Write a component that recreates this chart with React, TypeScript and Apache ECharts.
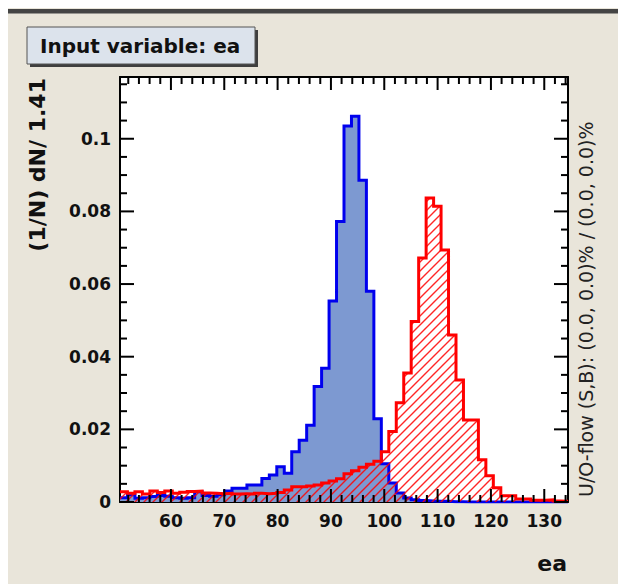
import React, { useEffect, useRef } from 'react';
import * as echarts from 'echarts';

// Binning of the "ea" variable: 60 equal bins starting at BIN_START
const BIN_START = 50.45;
const BIN_WIDTH = 1.4;

// (1/N) dN per bin, signal sample
const signalValues = [
  0.0012, 0.0020, 0.0010, 0.0012, 0.0015, 0.0018, 0.0016, 0.0012, 0.0010, 0.0012,
  0.0028, 0.0018, 0.0016, 0.0020, 0.0030, 0.0038, 0.0038, 0.0047, 0.0047, 0.0065,
  0.0074, 0.0097, 0.0079, 0.0138, 0.0170, 0.0211, 0.0318, 0.0368, 0.0553, 0.0772,
  0.1035, 0.1062, 0.0886, 0.0580, 0.0229, 0.0105, 0.0052, 0.0025, 0.0011, 0.0006,
  0.0004, 0.0003, 0.0002, 0.0002, 0.0001, 0.0001, 0.0000, 0.0000, 0.0000, 0.0000,
  0.0000, 0.0000, 0.0000, 0.0000, 0.0000, 0.0000, 0.0000, 0.0000, 0.0000, 0.0000,
];

// (1/N) dN per bin, background sample
const backgroundValues = [
  0.0028, 0.0024, 0.0028, 0.0022, 0.0030, 0.0026, 0.0030, 0.0024, 0.0027, 0.0029,
  0.0030, 0.0025, 0.0024, 0.0023, 0.0024, 0.0022, 0.0023, 0.0022, 0.0024, 0.0023,
  0.0024, 0.0026, 0.0033, 0.0042, 0.0042, 0.0044, 0.0047, 0.0052, 0.0058, 0.0064,
  0.0078, 0.0086, 0.0096, 0.0104, 0.0112, 0.0138, 0.0194, 0.0273, 0.0355, 0.0497,
  0.0672, 0.0837, 0.0814, 0.0694, 0.0460, 0.0336, 0.0226, 0.0226, 0.0116, 0.0072,
  0.0039, 0.0017, 0.0017, 0.0008, 0.0008, 0.0005, 0.0005, 0.0006, 0.0003, 0.0002,
];

const xMajorTicks = [60, 70, 80, 90, 100, 110, 120, 130];
const xMinorTicks = [
  52, 54, 56, 58, 62, 64, 66, 68, 72, 74, 76, 78, 82, 84, 86, 88, 92, 94, 96, 98,
  102, 104, 106, 108, 112, 114, 116, 118, 122, 124, 126, 128, 132, 134,
];
const yMajorTicks = [0, 0.02, 0.04, 0.06, 0.08, 0.1];
const yMinorTicks = [
  0.005, 0.01, 0.015, 0.025, 0.03, 0.035, 0.045, 0.05, 0.055, 0.065, 0.07, 0.075,
  0.085, 0.09, 0.095, 0.105, 0.11, 0.115,
];

const Y_MAX = 0.117;
const TITLE = 'Input variable: ea';
const Y_TITLE = '(1/N) dN/ 1.41';
const X_TITLE = 'ea';
const OVERFLOW_NOTE = 'U/O-flow (S,B): (0.0, 0.0)% / (0.0, 0.0)%';

const FONT = 'DejaVu Sans';

// Plot frame inside the 610x576 chart box
const PLOT = { left: 112, top: 69, width: 448, height: 425 };
const MAJOR_LEN = 13;
const MINOR_LEN = 7;
const TICK_W = 2;

// Turn per-bin contents into step-line points at the bin edges
function stepPoints(values: number[]): number[][] {
  const pts = values.map((v, i) => [BIN_START + i * BIN_WIDTH, v]);
  pts.push([BIN_START + values.length * BIN_WIDTH, values[values.length - 1]]);
  return pts;
}

// Diagonal red hatching tile used as the background fill
function hatchFill() {
  const size = 9;
  const c = document.createElement('canvas');
  c.width = size;
  c.height = size;
  const g = c.getContext('2d');
  if (g) {
    g.strokeStyle = 'rgba(255,0,0,0.85)';
    g.lineWidth = 1.4;
    g.beginPath();
    g.moveTo(0, size);
    g.lineTo(size, 0);
    g.moveTo(-2, 2);
    g.lineTo(2, -2);
    g.moveTo(size - 2, size + 2);
    g.lineTo(size + 2, size - 2);
    g.stroke();
  }
  return { image: c.toDataURL(), repeat: 'repeat', imageWidth: size, imageHeight: size };
}

// Static decorations: canvas strip, title box, axis titles, overflow note
function decorations() {
  return [
    { id: 'strip', type: 'rect', silent: true, shape: { x: 0, y: 1, width: 610, height: 4.5 }, style: { fill: '#444444' } },
    { id: 'title-shadow', type: 'rect', silent: true, shape: { x: 22, y: 22, width: 228, height: 37 }, style: { fill: '#3f3f3f' } },
    {
      id: 'title-box',
      type: 'rect',
      silent: true,
      shape: { x: 19, y: 19, width: 228, height: 37 },
      style: { fill: '#dce3ec', stroke: '#555555', lineWidth: 1 },
    },
    {
      id: 'title',
      type: 'text',
      silent: true,
      x: 32,
      y: 38,
      style: { text: TITLE, fontFamily: FONT, fontWeight: 'bold', fontSize: 20, fill: '#111', align: 'left', verticalAlign: 'middle' },
    },
    {
      id: 'y-title',
      type: 'text',
      silent: true,
      x: 29.5,
      y: 70,
      rotation: Math.PI / 2,
      style: { text: Y_TITLE, fontFamily: FONT, fontWeight: 'bold', fontSize: 22, fill: '#111', align: 'right', verticalAlign: 'middle' },
    },
    {
      id: 'x-title',
      type: 'text',
      silent: true,
      x: 559,
      y: 555,
      style: { text: X_TITLE, fontFamily: FONT, fontWeight: 'bold', fontSize: 22, fill: '#111', align: 'right', verticalAlign: 'middle' },
    },
    {
      id: 'overflow',
      type: 'text',
      silent: true,
      x: 578,
      y: 489,
      rotation: Math.PI / 2,
      style: { text: OVERFLOW_NOTE, fontFamily: FONT, fontSize: 19, fill: '#222', align: 'left', verticalAlign: 'middle' },
    },
  ];
}

export default function App() {
  const ref = useRef<HTMLDivElement>(null);

  useEffect(() => {
    if (!ref.current) return;
    const chart = echarts.init(ref.current, undefined, { renderer: 'svg' });
    const xMax = BIN_START + signalValues.length * BIN_WIDTH;

    const frameStyle = { color: '#000', width: 2 };
    const labelStyle = {
      fontFamily: FONT,
      fontWeight: 'bold' as const,
      fontSize: 17,
      color: '#111',
    };

    chart.setOption({
      animation: false,
      backgroundColor: '#e9e5da',
      grid: {
        left: PLOT.left,
        top: PLOT.top,
        width: PLOT.width,
        height: PLOT.height,
        show: true,
        backgroundColor: '#ffffff',
        borderWidth: 0,
        outerBoundsMode: 'none',
      },
      xAxis: [
        {
          type: 'value',
          min: BIN_START,
          max: xMax,
          position: 'bottom',
          splitLine: { show: false },
          axisLine: { show: true, onZero: false, lineStyle: frameStyle },
          axisTick: { show: false },
          axisLabel: { show: true, customValues: xMajorTicks, margin: 10, ...labelStyle },
        },
        {
          type: 'value',
          min: BIN_START,
          max: xMax,
          position: 'top',
          splitLine: { show: false },
          axisLine: { show: true, onZero: false, lineStyle: frameStyle },
          axisTick: { show: false },
          axisLabel: { show: false },
        },
      ],
      yAxis: [
        {
          type: 'value',
          min: 0,
          max: Y_MAX,
          position: 'left',
          splitLine: { show: false },
          axisLine: { show: true, onZero: false, lineStyle: frameStyle },
          axisTick: { show: false },
          axisLabel: {
            show: true,
            customValues: yMajorTicks,
            margin: 9,
            formatter: (v: number) => (v === 0 ? '0' : String(v)),
            ...labelStyle,
          },
        },
        {
          type: 'value',
          min: 0,
          max: Y_MAX,
          position: 'right',
          splitLine: { show: false },
          axisLine: { show: true, onZero: false, lineStyle: frameStyle },
          axisTick: { show: false },
          axisLabel: { show: false },
        },
      ],
      series: [
        {
          type: 'line',
          name: 'Signal',
          xAxisIndex: 0,
          yAxisIndex: 0,
          data: stepPoints(signalValues),
          step: 'end',
          symbol: 'none',
          silent: true,
          lineStyle: { color: '#0000ee', width: 3, join: 'miter', cap: 'butt' },
          areaStyle: { color: '#7d99d1', opacity: 1, origin: 'start' },
          z: 2,
        },
        {
          type: 'line',
          name: 'Background',
          xAxisIndex: 0,
          yAxisIndex: 0,
          data: stepPoints(backgroundValues),
          step: 'end',
          symbol: 'none',
          silent: true,
          lineStyle: { color: '#ff0000', width: 3, join: 'miter', cap: 'butt' },
          areaStyle: { color: hatchFill(), opacity: 1, origin: 'start' },
          z: 3,
        },
      ],
      graphic: { elements: decorations() },
    });

    // Inward tick marks on all four sides, placed through the axis scales
    const finder = { xAxisIndex: 0, yAxisIndex: 0 };
    const top = PLOT.top;
    const bottom = PLOT.top + PLOT.height;
    const left = PLOT.left;
    const right = PLOT.left + PLOT.width;
    const ticks: any[] = [];
    let n = 0;
    const tickRect = (x: number, y: number, w: number, h: number) => {
      ticks.push({
        id: 'tick-' + n++,
        type: 'rect',
        silent: true,
        z: 50,
        shape: { x, y, width: w, height: h },
        style: { fill: '#000000' },
      });
    };
    const addX = (values: number[], len: number) => {
      values.forEach((v) => {
        const px = chart.convertToPixel(finder, [v, 0]) as number[];
        if (!px || !isFinite(px[0])) return;
        const x = px[0] - TICK_W / 2;
        tickRect(x, bottom - len, TICK_W, len);
        tickRect(x, top, TICK_W, len);
      });
    };
    const addY = (values: number[], len: number) => {
      values.forEach((v) => {
        const px = chart.convertToPixel(finder, [BIN_START, v]) as number[];
        if (!px || !isFinite(px[1])) return;
        const y = px[1] - TICK_W / 2;
        tickRect(left, y, len, TICK_W);
        tickRect(right - len, y, len, TICK_W);
      });
    };
    addX(xMajorTicks, MAJOR_LEN);
    addX(xMinorTicks, MINOR_LEN);
    addY(yMajorTicks, MAJOR_LEN + 1);
    addY(yMinorTicks, MINOR_LEN);

    chart.setOption({ graphic: { elements: [...decorations(), ...ticks] } });

    return () => chart.dispose();
  }, []);

  return (
    <div
      ref={ref}
      style={{ position: 'absolute', left: 8, top: 8, width: 610, height: 576 }}
    />
  );
}
